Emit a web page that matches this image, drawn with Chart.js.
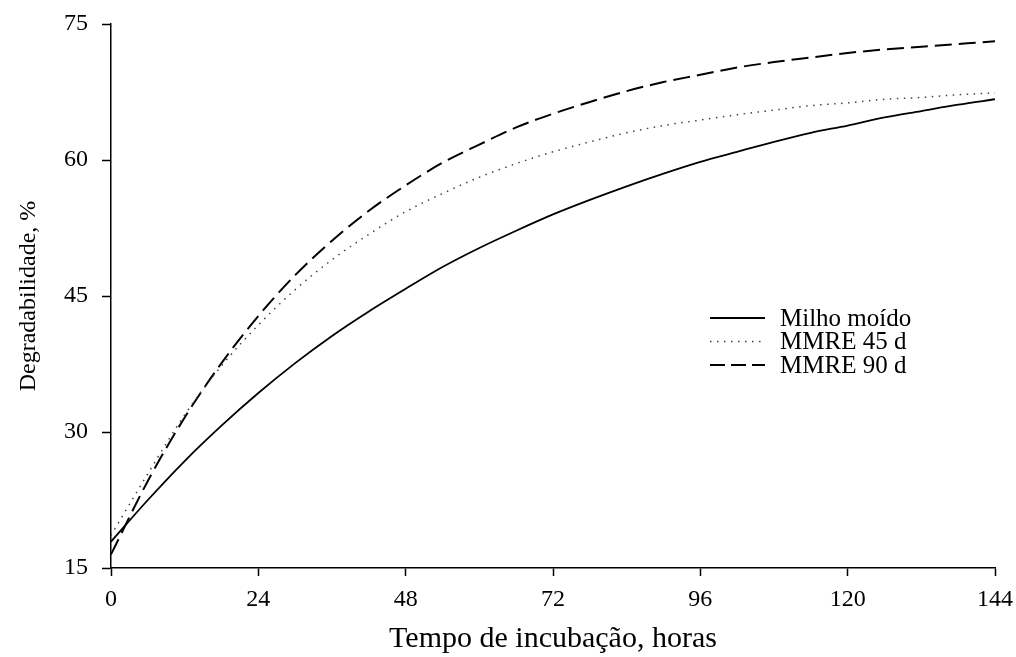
<!DOCTYPE html>
<html>
<head>
<meta charset="utf-8">
<script src="https://cdn.jsdelivr.net/npm/chart.js@4/dist/chart.umd.min.js"></script>
<style>
  html, body { margin: 0; padding: 0; background: #fff; }
  #wrap { width: 1016px; height: 657px; position: relative; }
</style>
</head>
<body>
<div id="wrap"><canvas id="c" width="1016" height="657"></canvas></div>
<script>
// ---- data ----
const hours = [0, 6, 12, 18, 24, 30, 36, 42, 48, 54, 60, 66, 72, 78, 84, 90, 96, 102, 108, 114, 120, 126, 132, 138, 144];
const milhoMoido = [17.9, 22.5, 26.8, 30.7, 34.3, 37.6, 40.6, 43.3, 45.8, 48.2, 50.3, 52.2, 54.0, 55.6, 57.1, 58.5, 59.8, 60.9, 62.0, 63.0, 63.8, 64.7, 65.4, 66.1, 66.7];
const mmre45 = [18.6, 25.4, 31.9, 37.3, 41.8, 45.7, 49.0, 51.8, 54.3, 56.3, 58.1, 59.6, 60.9, 62.0, 63.0, 63.8, 64.4, 65.0, 65.5, 66.0, 66.3, 66.7, 66.9, 67.2, 67.4];
const mmre90 = [16.5, 24.6, 31.6, 37.6, 42.8, 47.3, 51.1, 54.4, 57.2, 59.7, 61.7, 63.6, 65.1, 66.4, 67.6, 68.6, 69.4, 70.2, 70.8, 71.3, 71.8, 72.2, 72.5, 72.8, 73.1];
const seriesLabels = ["Milho moído", "MMRE 45 d", "MMRE 90 d"];
const xTicks = [0, 24, 48, 72, 96, 120, 144];
const yTicks = [15, 30, 45, 60, 75];
const xTitle = "Tempo de incubação, horas";
const yTitle = "Degradabilidade, %";

const FONT = "'Liberation Serif', 'Times New Roman', serif";
const toXY = (ys) => hours.map((h, i) => ({ x: h, y: ys[i] }));

const styles = [
  { borderColor: '#000', borderWidth: 1.8, borderDash: [] },
  { borderColor: '#444', borderWidth: 1.5, borderDash: [1.5, 5.5] },
  { borderColor: '#000', borderWidth: 2, borderDash: [17, 7] }
];
const allSeries = [milhoMoido, mmre45, mmre90];

const legendPlugin = {
  id: 'innerLegend',
  afterDraw(chart) {
    const ctx = chart.ctx;
    const x0 = 710, x1 = 765, tx = 780, y0 = 318, dy = 23.5;
    ctx.save();
    chart.data.datasets.forEach((ds, i) => {
      const y = y0 + i * dy;
      ctx.beginPath();
      ctx.strokeStyle = ds.borderColor;
      ctx.lineWidth = ds.borderWidth;
      ctx.setLineDash(i === 2 ? [15, 6] : ds.borderDash);
      ctx.moveTo(x0, y);
      ctx.lineTo(x1, y);
      ctx.stroke();
      ctx.setLineDash([]);
      ctx.fillStyle = '#000';
      ctx.font = "25px " + FONT;
      ctx.textBaseline = 'middle';
      ctx.textAlign = 'left';
      ctx.fillText(ds.label, tx, y + 1);
    });
    ctx.restore();
  }
};

new Chart(document.getElementById('c'), {
  type: 'line',
  data: {
    datasets: allSeries.map((s, i) => ({
      label: seriesLabels[i],
      data: toXY(s),
      borderColor: styles[i].borderColor,
      borderWidth: styles[i].borderWidth,
      borderDash: styles[i].borderDash,
      pointRadius: 0,
      fill: false,
      cubicInterpolationMode: 'monotone'
    }))
  },
  options: {
    responsive: false,
    animation: false,
    layout: { padding: { left: 0, right: 21, top: 24, bottom: 0 } },
    plugins: { legend: { display: false }, tooltip: { enabled: false } },
    scales: {
      x: {
        type: 'linear',
        min: 0, max: 144,
        afterBuildTicks: (s) => { s.ticks = xTicks.map(v => ({ value: v })); },
        afterFit: (s) => { s.height = 89; s.paddingLeft = 0; s.paddingRight = 0; },
        ticks: { color: '#000', font: { family: FONT, size: 24 }, padding: 9, maxRotation: 0 },
        grid: { drawOnChartArea: false, drawTicks: true, tickLength: 8, color: '#000', tickWidth: 1.5 },
        border: { display: true, color: '#000', width: 1.5 },
        title: { display: true, text: xTitle, color: '#000', font: { family: FONT, size: 30 }, padding: { top: 0, bottom: 0 } }
      },
      y: {
        type: 'linear',
        min: 15, max: 75,
        afterBuildTicks: (s) => { s.ticks = yTicks.map(v => ({ value: v })); },
        afterFit: (s) => { s.width = 111; s.paddingTop = 0; s.paddingBottom = 0; },
        ticks: { color: '#000', font: { family: FONT, size: 24 }, padding: 14 },
        grid: { drawOnChartArea: false, drawTicks: true, tickLength: 9, color: '#000', tickWidth: 1.5 },
        border: { display: true, color: '#000', width: 1.5 },
        title: { display: true, text: yTitle, color: '#000', font: { family: FONT, size: 24 }, padding: { top: 14, bottom: 0 } }
      }
    }
  },
  plugins: [legendPlugin]
});
</script>
</body>
</html>
